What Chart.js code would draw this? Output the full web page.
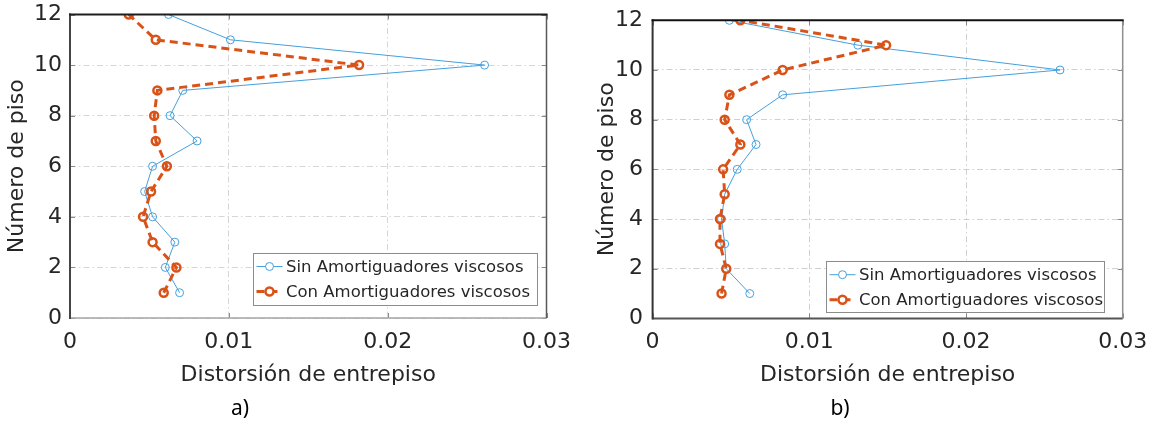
<!DOCTYPE html>
<html>
<head>
<meta charset="utf-8">
<script src="https://cdn.jsdelivr.net/npm/chart.js@4.4.1/dist/chart.umd.min.js"></script>
<style>
  html, body { margin: 0; padding: 0; background: #fff; }
  body { width: 1151px; height: 421px; position: relative; overflow: hidden; }
  .panel { position: absolute; top: 0; height: 421px; }
  #panelA { left: 0; width: 575px; }
  #panelB { left: 575px; width: 576px; }
  .tag { position: absolute; font-family: "Noto Sans", "Open Sans", sans-serif; font-size: 21px;
         color: #000; line-height: 1; transform: translate(-50%, -50%); }
</style>
</head>
<body>
<div class="panel" id="panelA"><canvas id="chartA"></canvas></div>
<div class="panel" id="panelB"><canvas id="chartB"></canvas></div>
<div class="tag" style="left:240px; top:407px;">a)</div>
<div class="tag" style="left:840px; top:407px;">b)</div>
<script>
// floor numbers (y) and interstory drift per floor (x), floor 1 -> 12
const floors = [1, 2, 3, 4, 5, 6, 7, 8, 9, 10, 11, 12];
const sinA = [0.0069, 0.0060, 0.0066, 0.0052, 0.0047, 0.0052, 0.0080, 0.0063, 0.0071, 0.0261, 0.0101, 0.0062];
const conA = [0.0059, 0.0067, 0.0052, 0.0046, 0.0051, 0.0061, 0.0054, 0.0053, 0.0055, 0.0182, 0.0054, 0.0037];
const sinB = [0.0062, 0.0047, 0.0046, 0.0044, 0.0046, 0.0054, 0.0066, 0.0060, 0.0083, 0.0260, 0.0131, 0.0049];
const conB = [0.0044, 0.0047, 0.0043, 0.0043, 0.0046, 0.0045, 0.0056, 0.0046, 0.0049, 0.0083, 0.0149, 0.0056];
const seriesNames = ['Sin Amortiguadores viscosos', 'Con Amortiguadores viscosos'];
const xTicks = [0, 0.01, 0.02, 0.03];
const yTicks = [0, 2, 4, 6, 8, 10, 12];
const xTitle = 'Distorsión de entrepiso';
const yTitle = 'Número de piso';

const BLUE = '#45a0dc';
const ORANGE = '#d95319';
const TEXT = '#262626';
const FONT = '"DejaVu Sans", "Liberation Sans", Arial, sans-serif';

// axes box, inward tick marks and the legend box (drawn over the lines)
const frameAndLegend = {
  id: 'frameAndLegend',
  afterDatasetsDraw(chart, args, opts) {
    const { ctx, chartArea: a, scales } = chart;
    ctx.save();
    ctx.setLineDash([]);

    // inward ticks
    ctx.strokeStyle = opts.tickColor;
    ctx.lineWidth = 1;
    scales.x.ticks.forEach(t => {
      const px = Math.round(scales.x.getPixelForValue(t.value)) + 0.5;
      ctx.beginPath();
      ctx.moveTo(px, a.bottom); ctx.lineTo(px, a.bottom - 5);
      ctx.moveTo(px, a.top); ctx.lineTo(px, a.top + 5);
      ctx.stroke();
    });
    scales.y.ticks.forEach(t => {
      const py = Math.round(scales.y.getPixelForValue(t.value)) + 0.5;
      ctx.beginPath();
      ctx.moveTo(a.left, py); ctx.lineTo(a.left + 5, py);
      ctx.moveTo(a.right, py); ctx.lineTo(a.right - 5, py);
      ctx.stroke();
    });

    const edge = (x1, y1, x2, y2, s) => {
      ctx.strokeStyle = s.color;
      ctx.lineWidth = s.width;
      ctx.beginPath();
      ctx.moveTo(x1, y1); ctx.lineTo(x2, y2);
      ctx.stroke();
    };
    edge(a.left, a.bottom, a.right, a.bottom, opts.bottom);
    edge(a.right, a.top, a.right, a.bottom, opts.right);
    edge(a.left, a.top - 1, a.left, a.bottom + 1, opts.left);
    edge(a.left - 1, a.top, a.right + 1, a.top, opts.top);

    // legend
    const lg = opts.legend;
    const bx = a.right - lg.right - lg.width;
    const by = a.bottom - lg.bottom - lg.height;
    ctx.fillStyle = '#fff';
    ctx.fillRect(bx, by, lg.width, lg.height);
    ctx.strokeStyle = '#8c8c8c';
    ctx.lineWidth = 1;
    ctx.strokeRect(Math.round(bx) + 0.5, Math.round(by) + 0.5, lg.width, lg.height);

    ctx.font = '16.5px ' + FONT;
    ctx.textBaseline = 'middle';
    ctx.textAlign = 'left';
    chart.data.datasets.forEach((ds, i) => {
      const ry = by + lg.rows[i];
      ctx.strokeStyle = ds.borderColor;
      ctx.lineWidth = ds.borderWidth;
      ctx.setLineDash(ds.borderDash || []);
      ctx.beginPath();
      ctx.moveTo(bx + 3.5, ry); ctx.lineTo(bx + 29.5, ry);
      ctx.stroke();
      ctx.setLineDash([]);
      ctx.lineWidth = ds.pointBorderWidth;
      ctx.fillStyle = '#fff';
      ctx.beginPath();
      ctx.arc(bx + 16.5, ry, ds.pointRadius, 0, Math.PI * 2);
      ctx.fill();
      ctx.stroke();
      ctx.fillStyle = TEXT;
      ctx.fillText(ds.label, bx + 33, ry + 1);
    });
    ctx.restore();
  }
};

function series(values) {
  return floors.map((f, i) => ({ x: values[i], y: f }));
}

function makeChart(id, sin, con, look) {
  return new Chart(document.getElementById(id), {
    type: 'scatter',
    data: {
      datasets: [
        {
          label: seriesNames[0], data: series(sin), showLine: true,
          borderColor: BLUE, borderWidth: 1,
          pointRadius: 4, pointBorderWidth: 1, pointBorderColor: BLUE,
          pointBackgroundColor: 'rgba(0,0,0,0)', order: 1
        },
        {
          label: seriesNames[1], data: series(con), showLine: true,
          borderColor: ORANGE, borderWidth: 3, borderDash: [8, 5],
          pointRadius: 4, pointBorderWidth: 2.5, pointBorderColor: ORANGE,
          pointBackgroundColor: 'rgba(0,0,0,0)', order: 0
        }
      ]
    },
    options: {
      responsive: true,
      maintainAspectRatio: false,
      animation: false,
      events: [],
      layout: { padding: look.pad },
      plugins: {
        legend: { display: false },
        tooltip: { enabled: false },
        frameAndLegend: look.frame
      },
      scales: {
        x: {
          type: 'linear', min: 0, max: 0.03,
          afterBuildTicks: s => { s.ticks = xTicks.map(v => ({ value: v })); },
          // fixed axis height; edge labels may overhang the plot area
          afterFit: s => { s.height = look.xHeight; s.paddingLeft = 0; s.paddingRight = 0; },
          ticks: {
            callback: v => String(+v.toFixed(2)),
            font: { family: FONT, size: 22 }, color: TEXT,
            padding: 11, maxRotation: 0, autoSkip: false
          },
          grid: { color: look.gridColor, lineWidth: 1, drawTicks: false },
          border: { display: false, dash: [6, 3, 1.5, 3] },
          title: {
            display: true, text: xTitle, color: TEXT,
            font: { family: FONT, size: 22 }, padding: { top: 0, bottom: 33 }
          }
        },
        y: {
          type: 'linear', min: 0, max: 12,
          afterBuildTicks: s => { s.ticks = yTicks.map(v => ({ value: v })); },
          afterFit: s => { s.width = look.yWidth; s.paddingTop = 0; s.paddingBottom = 0; },
          ticks: {
            font: { family: FONT, size: 22 }, color: TEXT,
            padding: look.yTickPad, autoSkip: false
          },
          grid: { color: look.gridColor, lineWidth: 1, drawTicks: false },
          border: { display: false, dash: [6, 3, 1.5, 3] },
          title: {
            display: true, text: yTitle, color: TEXT,
            font: { family: FONT, size: 22 }, padding: { top: look.yTitlePad, bottom: 0 }
          }
        }
      }
    },
    plugins: [frameAndLegend]
  });
}

makeChart('chartA', sinA, conA, {
  pad: { left: 0, top: 14.5, right: 28.5, bottom: 0 },
  xHeight: 103, yWidth: 70, yTickPad: 8, yTitlePad: 4,
  gridColor: '#d6d6d6',
  frame: {
    tickColor: '#8a8a8a',
    top: { color: '#1e1e1e', width: 2 },
    left: { color: '#454545', width: 2 },
    right: { color: '#5a5a5a', width: 1.5 },
    bottom: { color: '#a5a5a5', width: 1.5 },
    legend: { width: 284, height: 52, right: 9.5, bottom: 13, rows: [13.5, 38.5] }
  }
});

makeChart('chartB', sinB, conB, {
  pad: { left: 0, top: 20.3, right: 28.3, bottom: 0 },
  xHeight: 102.6, yWidth: 77.6, yTickPad: 9.5, yTitlePad: 18.8,
  gridColor: '#cfcfcf',
  frame: {
    tickColor: '#8a8a8a',
    top: { color: '#111111', width: 2 },
    left: { color: '#333333', width: 2 },
    right: { color: '#8f8f8f', width: 1.5 },
    bottom: { color: '#555555', width: 2 },
    legend: { width: 278, height: 51, right: 18.7, bottom: 6.7, rows: [14, 39] }
  }
});
</script>
</body>
</html>
